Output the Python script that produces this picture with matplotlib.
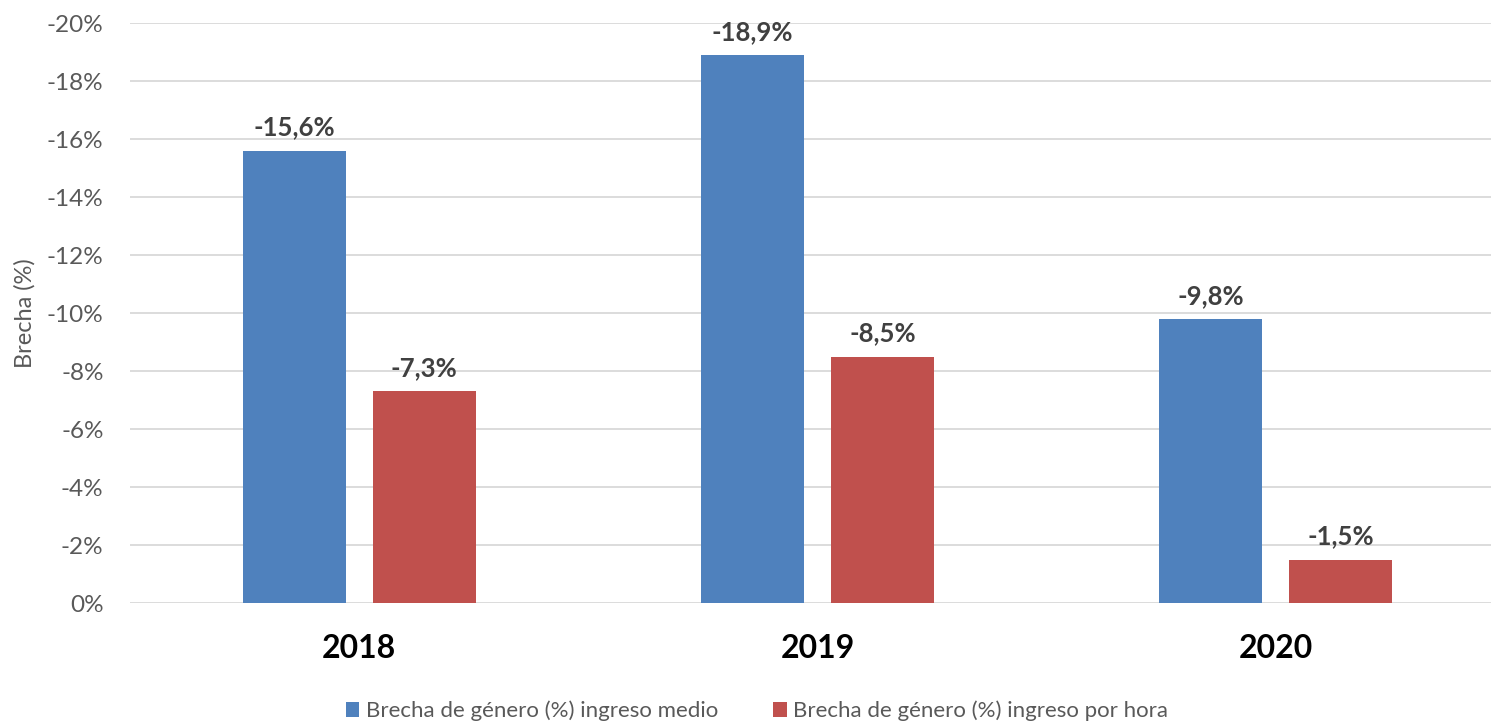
import matplotlib.pyplot as plt
import numpy as np

plt.rcParams["font.family"] = ["Lato", "DejaVu Sans"]

years = ["2018", "2019", "2020"]
ingreso_medio = [-15.6, -18.9, -9.8]
ingreso_hora = [-7.3, -8.5, -1.5]
series_labels = ["Brecha de género (%) ingreso medio", "Brecha de género (%) ingreso por hora"]
yticks = [0, -2, -4, -6, -8, -10, -12, -14, -16, -18, -20]

blue = "#4f81bd"
red = "#c0504d"

fig = plt.figure(figsize=(14.91, 7.24), dpi=100)
ax = fig.add_axes([130 / 1491, 1 - 603 / 724, (1505 - 130) / 1491, 580 / 724])

x = np.arange(len(years))
w = 0.225
off = 0.142
b1 = ax.bar(x - off, ingreso_medio, w, color=blue, label=series_labels[0], zorder=3)
b2 = ax.bar(x + off, ingreso_hora, w, color=red, label=series_labels[1], zorder=3)

# etiquetas de datos con coma decimal
for bars, vals in ((b1, ingreso_medio), (b2, ingreso_hora)):
    for b, v in zip(bars, vals):
        ax.annotate(f"{v:.1f}%".replace(".", ","), (b.get_x() + b.get_width() / 2, v),
                    textcoords="offset points", xytext=(0, 8), ha="center", va="bottom",
                    fontsize=18.5, fontweight="bold", color="#404040")

ax.set_xlim(-0.5, 2.5)
ax.set_ylim(0, -20)
ax.set_yticks(yticks)
ax.set_yticklabels([f"{t}%" for t in yticks], fontsize=17.5, color="#595959")
ax.set_xticks(x)
ax.set_xticklabels(years, fontsize=23, fontweight="bold", color="black")
ax.tick_params(axis="x", length=0, pad=22)
ax.tick_params(axis="y", length=0, pad=19)
ax.yaxis.grid(True, color="#d9d9d9", linewidth=1.3, zorder=0)
for s in ax.spines.values():
    s.set_visible(False)
ax.set_ylabel("Brecha (%)", fontsize=17, color="#595959", labelpad=8)

fig.legend(handles=[b1, b2], loc="center", bbox_to_anchor=(757 / 1491, 1 - 711 / 724),
           ncol=2, frameon=False, fontsize=16, handlelength=0.6, handleheight=0.6,
           handletextpad=0.3, columnspacing=2.5, labelcolor="#595959")

fig.savefig("out.png", dpi=100)
